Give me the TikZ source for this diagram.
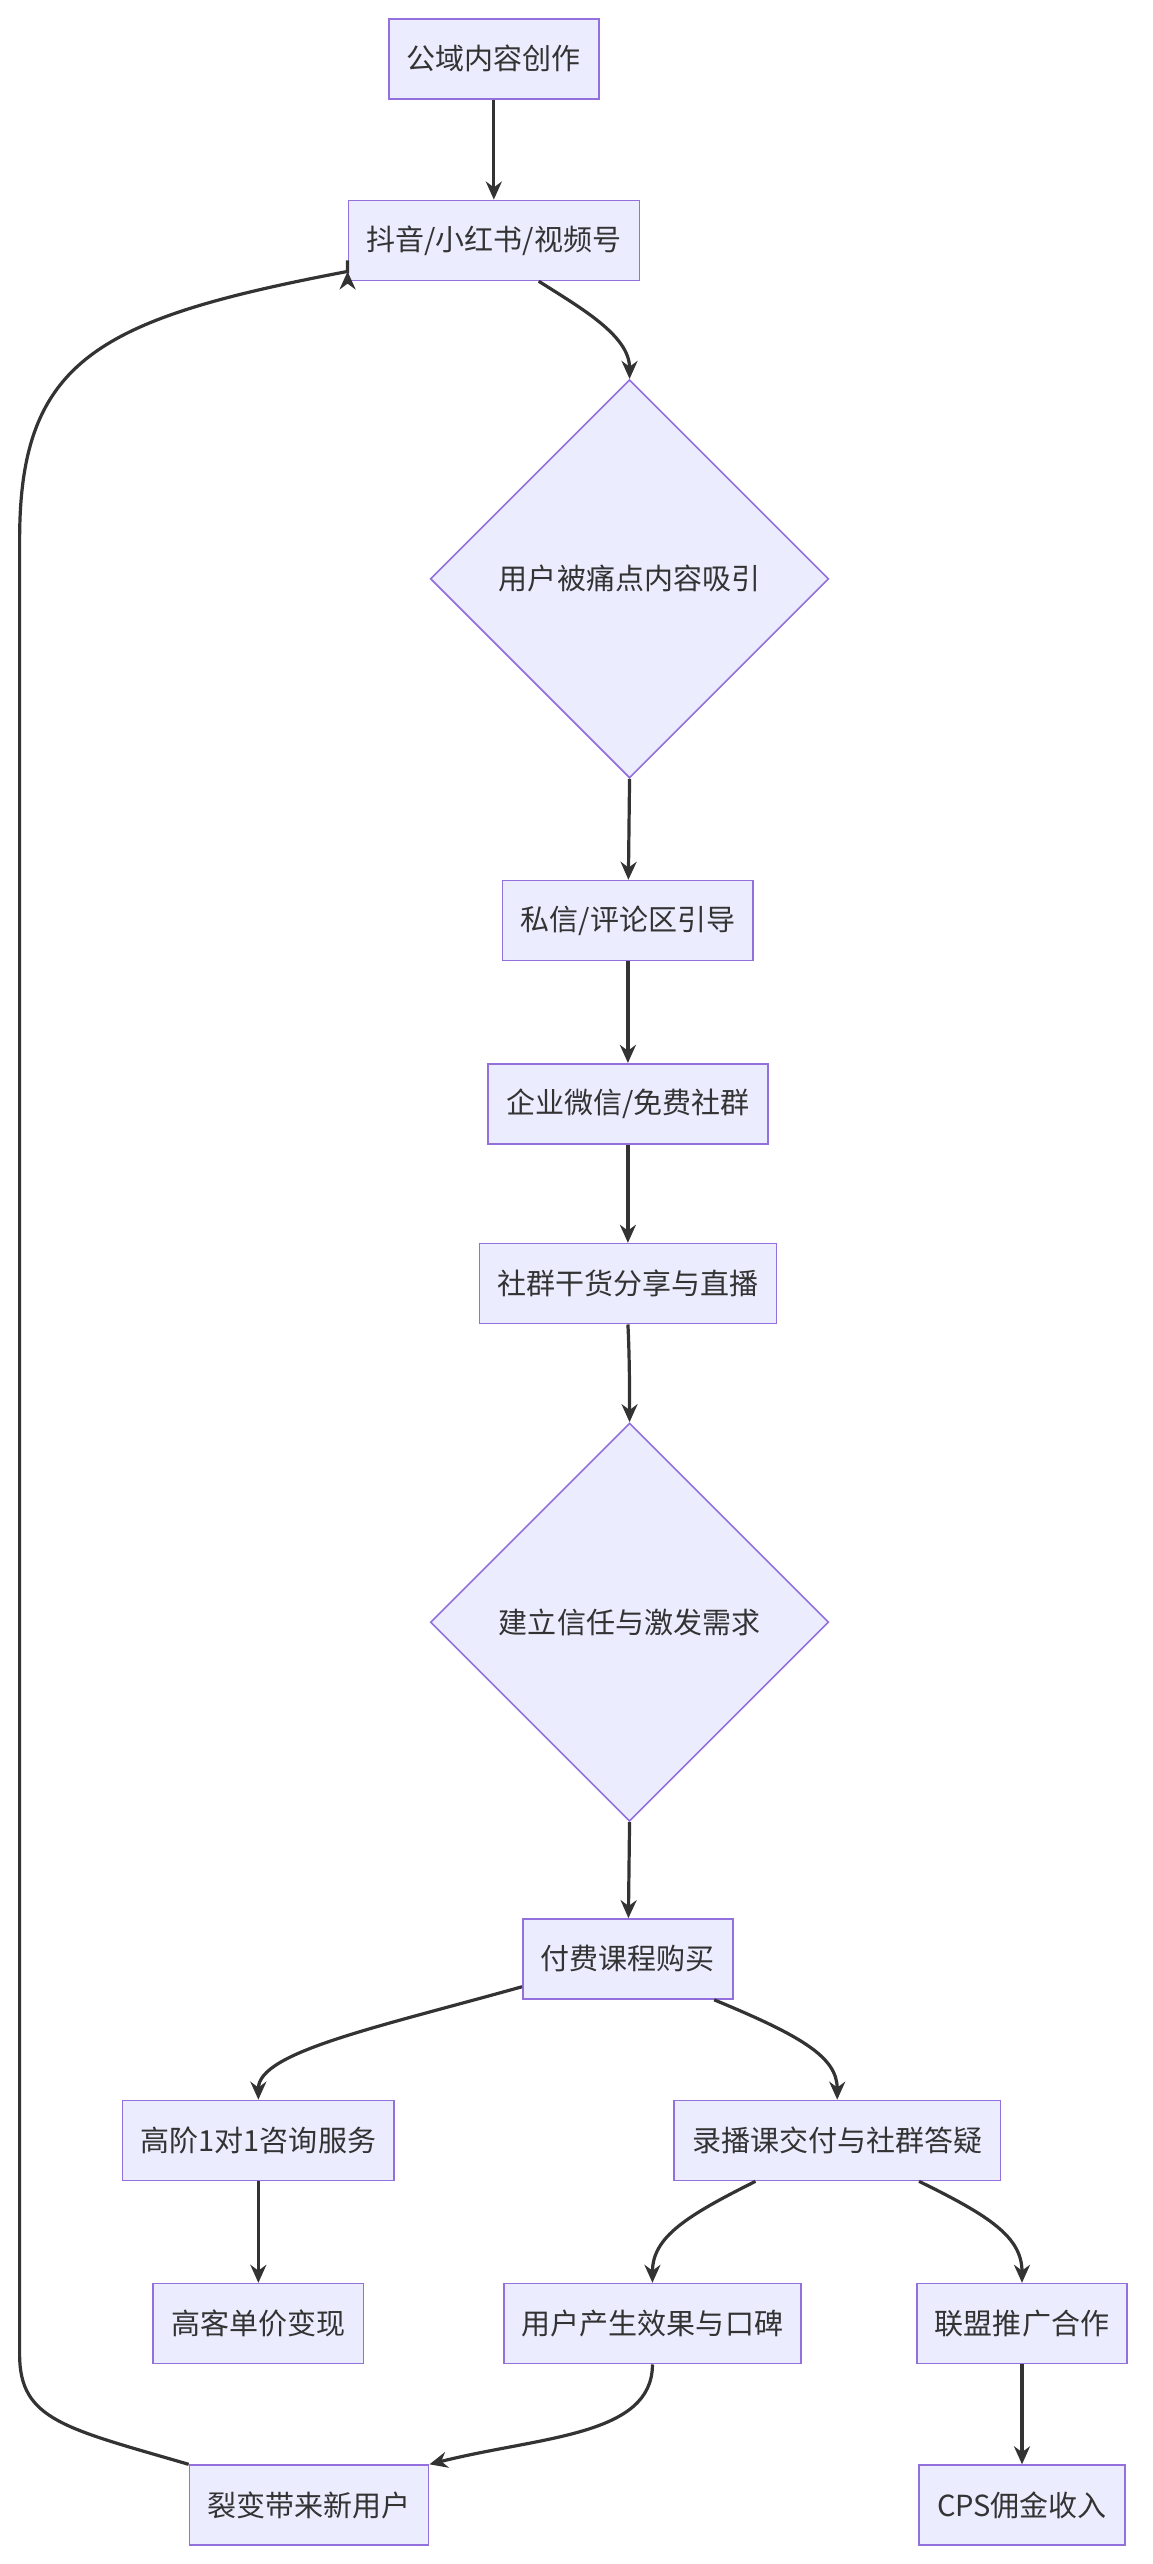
\documentclass[tikz,border=0pt]{standalone}
\usepackage{fontspec}
\setmainfont{Noto Sans CJK SC}
\usetikzlibrary{shapes.geometric,arrows.meta}
\definecolor{boxfill}{HTML}{ECECFF}
\definecolor{boxline}{HTML}{9370DB}
\definecolor{arrowcol}{HTML}{333333}
\begin{document}
\begin{tikzpicture}[x=0.817pt, y=-0.817pt,
    box/.style={draw=boxline, fill=boxfill, line width=0.8pt, inner xsep=9pt, minimum height=40pt, font=\fontsize{14.5}{17}\selectfont, text=arrowcol},
    decision/.style={box, diamond, aspect=1, minimum width=199pt, minimum height=199pt, inner sep=0pt},
    flow/.style={draw=arrowcol, line width=1.6pt, -{Stealth[length=9pt,width=8pt]}}]

    % canvas
    \useasboundingbox (0,0) rectangle (705,1568);

    % nodes
    \node[box] (create) at (302,36) {公域内容创作};
    \node[box] (platform) at (302,147) {抖音/小红书/视频号};
    \node[decision] (attract) at (385,354) {用户被痛点内容吸引};
    \node[box] (guide) at (384,563) {私信/评论区引导};
    \node[box] (wecom) at (384,675) {企业微信/免费社群};
    \node[box] (live) at (384,785) {社群干货分享与直播};
    \node[decision] (trust) at (385,992) {建立信任与激发需求};
    \node[box] (buy) at (384,1198) {付费课程购买};
    \node[box] (consult) at (158,1309) {高阶1对1咨询服务};
    \node[box] (course) at (512,1309) {录播课交付与社群答疑};
    \node[box] (highprice) at (158,1421) {高客单价变现};
    \node[box] (effect) at (399,1421) {用户产生效果与口碑};
    \node[box] (union) at (625,1421) {联盟推广合作};
    \node[box] (fission) at (189,1532) {裂变带来新用户};
    \node[box] (cps) at (625,1532) {CPS佣金收入};

    % connectors
    \draw[flow] (create) -- (platform);
    \draw[flow] (platform.south east) ++(-62,0) .. controls +(25,16) and (385,205) .. (attract.north);
    \draw[flow] (attract.south) -- (guide);
    \draw[flow] (guide) -- (wecom);
    \draw[flow] (wecom) -- (live);
    \draw[flow] (live.south) .. controls (385,830) and (385,850) .. (trust.north);
    \draw[flow] (trust.south) -- (buy);
    \draw[flow] (buy.south west) ++(0,-8) .. controls (230,1240) and (158,1255) .. (consult.north);
    \draw[flow] (buy.south east) ++(-12,0) .. controls (490,1245) and (512,1258) .. (course.north);
    \draw[flow] (consult) -- (highprice);
    \draw[flow] (course.south) ++(-50,0) .. controls (420,1355) and (399,1368) .. (effect.north);
    \draw[flow] (course.south) ++(50,0) .. controls (605,1355) and (625,1368) .. (union.north);
    \draw[flow] (union) -- (cps);
    \draw[flow] (effect.south) .. controls (399,1490) and (330,1490) .. (fission.north east);
    \draw[flow] (fission.north west) .. controls (40,1485) and (12,1480) .. (12,1440)
        -- (12,330) .. controls (12,220) and (60,195) .. (platform.west |- 0,166) -- (platform.south west |- 0,166);
\end{tikzpicture}
\end{document}
